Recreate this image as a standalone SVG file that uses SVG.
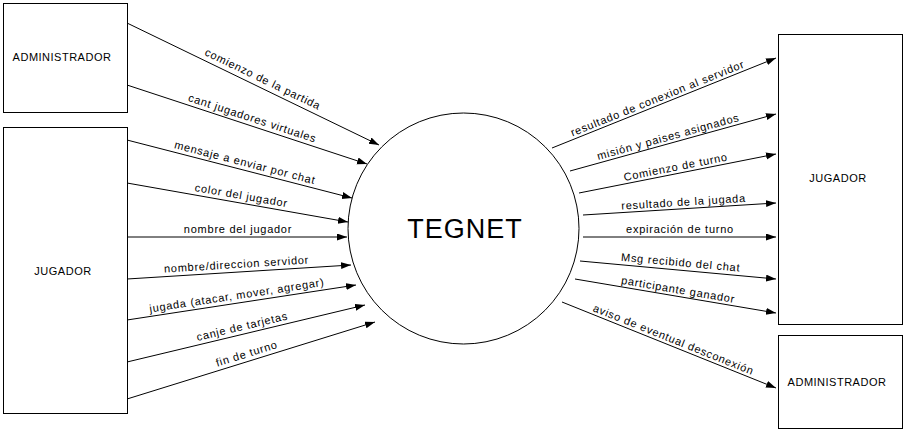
<svg xmlns="http://www.w3.org/2000/svg" width="904" height="433" viewBox="0 0 904 433">
<defs>
<style>
.box{fill:#fff;stroke:#000;stroke-width:1}
.lbl{font-family:"Liberation Sans",Arial,sans-serif;font-size:11px;fill:#000;text-anchor:middle;letter-spacing:0.75px}
.ent{font-family:"Liberation Sans",Arial,sans-serif;font-size:11px;fill:#000;text-anchor:middle;letter-spacing:0.5px}
.flow{stroke:#000;stroke-width:1;fill:none;marker-end:url(#arr)}
</style>
<marker id="arr" markerUnits="userSpaceOnUse" markerWidth="11" markerHeight="8" refX="10" refY="3.5" orient="auto">
<path d="M0,0 L10,3.5 L0,7 z" fill="#000"/>
</marker>
</defs>
<rect width="904" height="433" fill="#fff"/>
<g id="admin-left"><rect class="box" x="3.5" y="3.5" width="124" height="109"/><text class="ent" x="62" y="61">ADMINISTRADOR</text></g>
<g id="jugador-left"><rect class="box" x="3.5" y="127.5" width="124" height="286"/><text class="ent" x="63" y="275">JUGADOR</text></g>
<g id="jugador-right"><rect class="box" x="778.5" y="34.5" width="124" height="290"/><text class="ent" x="838" y="182">JUGADOR</text></g>
<g id="admin-right"><rect class="box" x="778.5" y="335.5" width="124" height="93"/><text class="ent" x="837" y="386">ADMINISTRADOR</text></g>
<g id="tegnet"><circle cx="463.5" cy="228.5" r="115.5" fill="#fff" stroke="#000" stroke-width="1"/><text x="465" y="238" font-family="'Liberation Sans',Arial,sans-serif" font-size="27" letter-spacing="1" text-anchor="middle" fill="#000">TEGNET</text></g>
<g id="connectors">
<line class="flow" x1="127" y1="23" x2="379" y2="145"/>
<line class="flow" x1="127" y1="85" x2="367" y2="164"/>
<line class="flow" x1="127" y1="140" x2="352" y2="198"/>
<line class="flow" x1="127" y1="183" x2="348" y2="222"/>
<line class="flow" x1="127" y1="237" x2="347" y2="237"/>
<line class="flow" x1="127" y1="279" x2="351" y2="265"/>
<line class="flow" x1="127" y1="320" x2="356" y2="285"/>
<line class="flow" x1="127" y1="362" x2="365" y2="305"/>
<line class="flow" x1="127" y1="399" x2="375" y2="322"/>
<line class="flow" x1="552" y1="148" x2="776" y2="58"/>
<line class="flow" x1="570" y1="171" x2="776" y2="114"/>
<line class="flow" x1="579" y1="193" x2="776" y2="154"/>
<line class="flow" x1="583" y1="215" x2="776" y2="203"/>
<line class="flow" x1="583" y1="237" x2="776" y2="237"/>
<line class="flow" x1="580" y1="261" x2="776" y2="279"/>
<line class="flow" x1="575" y1="279" x2="776" y2="313"/>
<line class="flow" x1="562" y1="302" x2="776" y2="388"/>
<text class="lbl" transform="translate(259,86.9) rotate(25.8)" y="-5">comienzo de la partida</text>
<text class="lbl" transform="translate(250,125.5) rotate(18.2)" y="-4">cant jugadores virtuales</text>
<text class="lbl" transform="translate(243,170) rotate(14.5)" y="-4">mensaje  a enviar por chat</text>
<text class="lbl" transform="translate(240,203) rotate(10)" y="-4">color del jugador</text>
<text class="lbl" transform="translate(238,237)" y="-4">nombre del jugador</text>
<text class="lbl" transform="translate(237,272) rotate(-3.6)" y="-4">nombre/direccion servidor</text>
<text class="lbl" transform="translate(238,303) rotate(-8.7)" y="-4">jugada (atacar, mover, agregar)</text>
<text class="lbl" transform="translate(244,334) rotate(-13.5)" y="-4">canje de tarjetas</text>
<text class="lbl" transform="translate(249,361) rotate(-17.2)" y="-4">fin de turno</text>
<text class="lbl" transform="translate(660,104.6) rotate(-21.9)" y="-3">resultado de conexion al servidor</text>
<text class="lbl" transform="translate(670,143.3) rotate(-15.5)" y="-3">misión y paises asignados</text>
<text class="lbl" transform="translate(677,173.6) rotate(-11.2)" y="-3">Comienzo de turno</text>
<text class="lbl" transform="translate(684,208.7) rotate(-3.6)" y="-3">resultado de la jugada</text>
<text class="lbl" transform="translate(680,237)" y="-4">expiración de turno</text>
<text class="lbl" transform="translate(680,270.2) rotate(5.2)" y="-4">Msg recibido del chat</text>
<text class="lbl" transform="translate(677,296.3) rotate(9.6)" y="-3">participante ganador</text>
<text class="lbl" transform="translate(671,345.8) rotate(21.9)" y="-3">aviso de eventual desconexión</text>
</g>
</svg>
